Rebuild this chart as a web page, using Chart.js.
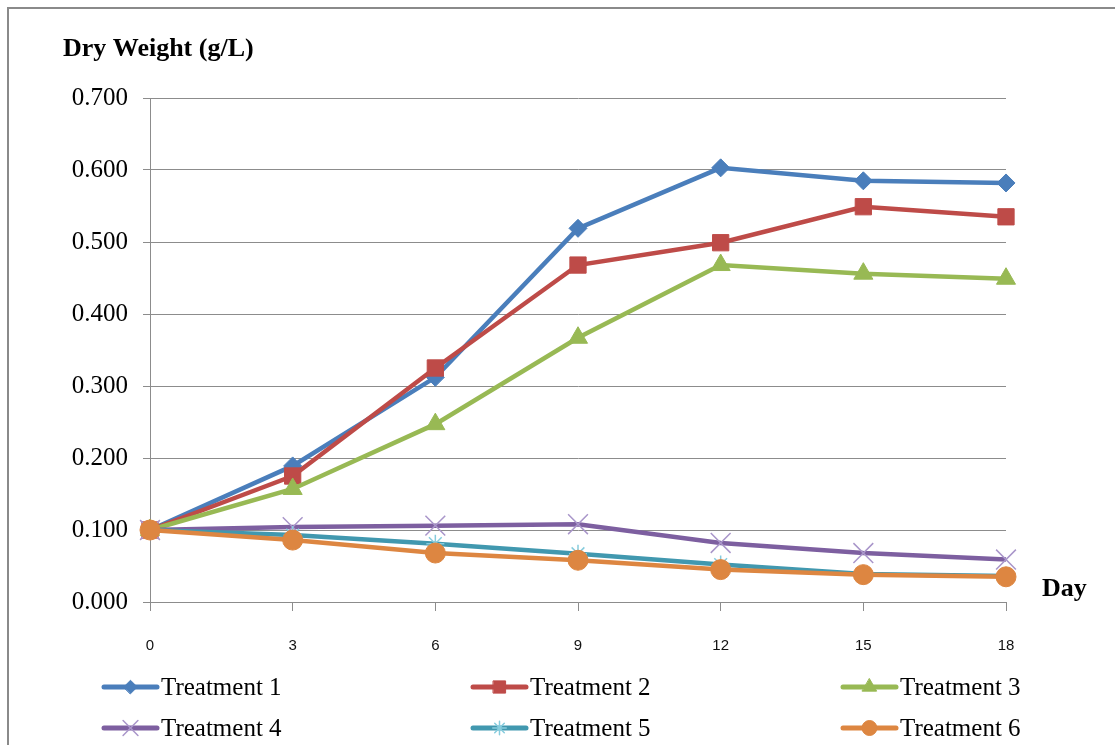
<!DOCTYPE html>
<html>
<head>
<meta charset="utf-8">
<script src="https://cdn.jsdelivr.net/npm/chart.js@4/dist/chart.umd.min.js"></script>
<style>
  html, body { margin: 0; padding: 0; background: #ffffff; }
  #wrap { width: 1115px; height: 745px; position: relative; }
</style>
</head>
<body>
<div id="wrap"><canvas id="c" width="1115" height="745"></canvas></div>
<script>
// Sampling days
const days = [0, 3, 6, 9, 12, 15, 18];

// Dry weight (g/L) per treatment
const treatment1 = [0.100, 0.189, 0.312, 0.519, 0.603, 0.585, 0.582];
const treatment2 = [0.100, 0.175, 0.325, 0.468, 0.499, 0.549, 0.535];
const treatment3 = [0.100, 0.157, 0.247, 0.367, 0.468, 0.456, 0.449];
const treatment4 = [0.100, 0.104, 0.106, 0.108, 0.082, 0.068, 0.059];
const treatment5 = [0.100, 0.093, 0.081, 0.067, 0.052, 0.039, 0.036];
const treatment6 = [0.100, 0.086, 0.068, 0.058, 0.045, 0.038, 0.035];

const seriesNames = ['Treatment 1', 'Treatment 2', 'Treatment 3', 'Treatment 4', 'Treatment 5', 'Treatment 6'];
const seriesValues = [treatment1, treatment2, treatment3, treatment4, treatment5, treatment6];

// y-axis range
const yMin = 0.0, yMax = 0.7, yStep = 0.1;

const serif = "'Liberation Serif', 'Times New Roman', serif";
const sans = "'Liberation Sans', Arial, sans-serif";

const styles = [
  { line: '#4A7EBB', point: 'rectRot',  radius: 9,    fill: '#4A7EBB', edge: '#4A7EBB', bw: 1 },
  { line: '#BE4B48', point: 'rect',     radius: 11.5, fill: '#BE4B48', edge: '#BE4B48', bw: 1 },
  { line: '#98B954', point: 'triangle', radius: 11,   fill: '#98B954', edge: '#98B954', bw: 1 },
  { line: '#7D5FA0', point: 'crossRot', radius: 14,   fill: 'rgba(0,0,0,0)', edge: '#A996CA', bw: 1.5 },
  { line: '#4198AF', point: 'star',     radius: 9,    fill: 'rgba(0,0,0,0)', edge: '#86CCDD', bw: 1.5 },
  { line: '#DD8641', point: 'circle',   radius: 10,   fill: '#DD8641', edge: '#DD8641', bw: 1 }
];

const datasets = seriesValues.map((vals, i) => ({
  label: seriesNames[i],
  data: vals,
  borderColor: styles[i].line,
  backgroundColor: styles[i].line,
  borderWidth: 4.5,
  tension: 0,
  pointStyle: styles[i].point,
  pointRadius: styles[i].radius,
  pointHoverRadius: styles[i].radius,
  pointBackgroundColor: styles[i].fill,
  pointBorderColor: styles[i].edge,
  pointBorderWidth: styles[i].bw,
  order: seriesNames.length - i
}));

// Outer frame, axis titles and the legend block under the plot
const decorations = {
  id: 'decorations',
  beforeDraw(chart) {
    const ctx = chart.ctx;
    ctx.save();
    ctx.fillStyle = '#ffffff';
    ctx.fillRect(0, 0, chart.width, chart.height);
    ctx.restore();
  },
  afterDraw(chart) {
    const ctx = chart.ctx;
    ctx.save();
    ctx.strokeStyle = '#8a8a8a';
    ctx.lineWidth = 2;
    ctx.strokeRect(8, 8, chart.width + 40, chart.height + 40);

    ctx.fillStyle = '#000000';
    ctx.font = 'bold 26px ' + serif;
    ctx.textAlign = 'left';
    ctx.textBaseline = 'middle';
    ctx.fillText('Dry Weight (g/L)', 63, 49);
    ctx.fillText('Day', 1042, 589);

    // legend: three columns, two rows
    const colX = [104, 473, 843];
    const rowY = [687, 728];
    chart.data.datasets.forEach((ds, i) => {
      const x0 = colX[i % 3];
      const y0 = rowY[Math.floor(i / 3)];
      ctx.lineCap = 'round';
      ctx.strokeStyle = ds.borderColor;
      ctx.lineWidth = 5;
      ctx.beginPath();
      ctx.moveTo(x0, y0);
      ctx.lineTo(x0 + 53, y0);
      ctx.stroke();
      const st = styles[i];
      ctx.fillStyle = st.fill;
      ctx.strokeStyle = st.edge;
      ctx.lineWidth = st.bw;
      Chart.helpers.drawPoint(ctx, {
        pointStyle: st.point,
        radius: st.radius * 0.75,
        rotation: 0,
        borderWidth: st.bw
      }, x0 + 26.5, y0);
      ctx.fillStyle = '#000000';
      ctx.font = '25px ' + serif;
      ctx.textAlign = 'left';
      ctx.textBaseline = 'middle';
      ctx.fillText(ds.label, x0 + 57, y0 + 1);
    });
    ctx.restore();
  }
};

new Chart(document.getElementById('c'), {
  type: 'line',
  data: { labels: days, datasets },
  options: {
    responsive: false,
    animation: false,
    devicePixelRatio: 1,
    layout: { padding: { left: 0, top: 98, right: 109, bottom: 0 } },
    plugins: {
      legend: { display: false },
      tooltip: { enabled: false },
      title: { display: false }
    },
    scales: {
      x: {
        type: 'category',
        offset: false,
        grid: {
          drawOnChartArea: false,
          drawTicks: true,
          tickLength: 9,
          color: '#8c8c8c',
          lineWidth: 1
        },
        border: { display: true, color: '#8c8c8c', width: 1 },
        ticks: {
          color: '#111111',
          font: { family: sans, size: 15 },
          padding: 26,
          maxRotation: 0,
          autoSkip: false
        },
        afterFit(scale) { scale.height = 143; }
      },
      y: {
        min: yMin,
        max: yMax,
        grid: {
          color: '#8c8c8c',
          lineWidth: 1,
          drawTicks: true,
          tickLength: 7
        },
        border: { display: true, color: '#8c8c8c', width: 1 },
        ticks: {
          stepSize: yStep,
          color: '#000000',
          font: { family: serif, size: 25 },
          padding: 15,
          callback: (v) => Number(v).toFixed(3)
        },
        afterFit(scale) { scale.width = 150; }
      }
    }
  },
  plugins: [decorations]
});
</script>
</body>
</html>
